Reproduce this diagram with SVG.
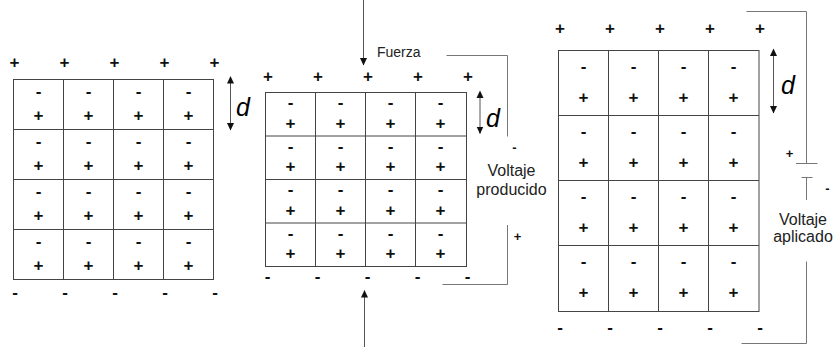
<svg xmlns="http://www.w3.org/2000/svg" width="836" height="347" viewBox="0 0 836 347">
<style>
.g{fill:#fff;stroke:#444;stroke-width:1}
.l{stroke:#444;stroke-width:1;fill:none}
.w{stroke:#777;stroke-width:1;fill:none}
.s{font-family:"Liberation Sans",Arial,sans-serif;font-size:17px;font-weight:bold;fill:#111;text-anchor:middle}
.ss{font-family:"Liberation Sans",Arial,sans-serif;font-size:13px;font-weight:bold;fill:#111;text-anchor:middle}
.t{font-family:"Liberation Sans",Arial,sans-serif;font-size:16px;fill:#222;text-anchor:middle}
.f{font-family:"Liberation Sans",Arial,sans-serif;font-size:14px;fill:#222}
.d{font-family:"Liberation Sans",Arial,sans-serif;font-size:25px;font-style:italic;fill:#000}
.a{stroke:#555;stroke-width:1;fill:none}
</style>
<defs>
<marker id="ah" markerWidth="8" markerHeight="8" refX="7" refY="4" orient="auto" markerUnits="userSpaceOnUse">
<path d="M0,0.5 L7.5,4 L0,7.5 Z" fill="#111"/>
</marker>
<marker id="ahs" markerWidth="8" markerHeight="8" refX="0.5" refY="4" orient="auto-start-reverse" markerUnits="userSpaceOnUse">
<path d="M0,0.5 L7.5,4 L0,7.5 Z" fill="#111"/>
</marker>
</defs>

<g id="grid-left">
<rect class="g" x="13.5" y="79.5" width="200" height="200"/>
<path class="l" d="M63.5,79.5V279.5M113.5,79.5V279.5M163.5,79.5V279.5M13.5,129.5H213.5M13.5,179.5H213.5M13.5,229.5H213.5"/>
<g class="s">
<text x="14.5" y="67.8">+</text><text x="64.5" y="67.8">+</text><text x="114.5" y="67.8">+</text><text x="164.5" y="67.8">+</text><text x="214.5" y="67.8">+</text>
<text x="15" y="297.6">-</text><text x="65" y="297.6">-</text><text x="115" y="297.6">-</text><text x="165" y="297.6">-</text><text x="215" y="297.6">-</text>
<text x="38.5" y="96.7">-</text><text x="88.5" y="96.7">-</text><text x="138.5" y="96.7">-</text><text x="188.5" y="96.7">-</text>
<text x="38.5" y="120.7">+</text><text x="88.5" y="120.7">+</text><text x="138.5" y="120.7">+</text><text x="188.5" y="120.7">+</text>
<text x="38.5" y="146.7">-</text><text x="88.5" y="146.7">-</text><text x="138.5" y="146.7">-</text><text x="188.5" y="146.7">-</text>
<text x="38.5" y="170.7">+</text><text x="88.5" y="170.7">+</text><text x="138.5" y="170.7">+</text><text x="188.5" y="170.7">+</text>
<text x="38.5" y="196.7">-</text><text x="88.5" y="196.7">-</text><text x="138.5" y="196.7">-</text><text x="188.5" y="196.7">-</text>
<text x="38.5" y="220.7">+</text><text x="88.5" y="220.7">+</text><text x="138.5" y="220.7">+</text><text x="188.5" y="220.7">+</text>
<text x="38.5" y="246.7">-</text><text x="88.5" y="246.7">-</text><text x="138.5" y="246.7">-</text><text x="188.5" y="246.7">-</text>
<text x="38.5" y="270.7">+</text><text x="88.5" y="270.7">+</text><text x="138.5" y="270.7">+</text><text x="188.5" y="270.7">+</text>
</g>
<text class="d" x="236" y="115.7">d</text>
</g>

<g id="grid-middle">
<rect class="g" x="265.5" y="92.5" width="201" height="174"/>
<path class="l" d="M315.5,92.5V266.5M365.5,92.5V266.5M415.5,92.5V266.5M265.5,136H466.5M265.5,179.5H466.5M265.5,223H466.5"/>
<g class="s">
<text x="268" y="81.8">+</text><text x="318" y="81.8">+</text><text x="368" y="81.8">+</text><text x="418" y="81.8">+</text><text x="468" y="81.8">+</text>
<text x="267.5" y="281.6">-</text><text x="317.5" y="281.6">-</text><text x="367.5" y="281.6">-</text><text x="417.5" y="281.6">-</text><text x="467.5" y="281.6">-</text>
<text x="290.5" y="108.2">-</text><text x="340.5" y="108.2">-</text><text x="390.5" y="108.2">-</text><text x="440.5" y="108.2">-</text>
<text x="290.5" y="128.7">+</text><text x="340.5" y="128.7">+</text><text x="390.5" y="128.7">+</text><text x="440.5" y="128.7">+</text>
<text x="290.5" y="151.7">-</text><text x="340.5" y="151.7">-</text><text x="390.5" y="151.7">-</text><text x="440.5" y="151.7">-</text>
<text x="290.5" y="172.2">+</text><text x="340.5" y="172.2">+</text><text x="390.5" y="172.2">+</text><text x="440.5" y="172.2">+</text>
<text x="290.5" y="195.2">-</text><text x="340.5" y="195.2">-</text><text x="390.5" y="195.2">-</text><text x="440.5" y="195.2">-</text>
<text x="290.5" y="215.7">+</text><text x="340.5" y="215.7">+</text><text x="390.5" y="215.7">+</text><text x="440.5" y="215.7">+</text>
<text x="290.5" y="238.7">-</text><text x="340.5" y="238.7">-</text><text x="390.5" y="238.7">-</text><text x="440.5" y="238.7">-</text>
<text x="290.5" y="259.2">+</text><text x="340.5" y="259.2">+</text><text x="390.5" y="259.2">+</text><text x="440.5" y="259.2">+</text>
</g>
<text class="d" x="486" y="126.5">d</text>
<text class="f" x="377" y="57.3">Fuerza</text>
<text class="t" x="511.5" y="175.5">Voltaje</text>
<text class="t" x="511.5" y="194.5">producido</text>
<text class="ss" x="514.5" y="151.5">-</text>
<text class="ss" x="517.5" y="241">+</text>
</g>

<g id="grid-right">
<rect class="g" x="558.5" y="50.5" width="200.5" height="261"/>
<path class="l" d="M608.5,50.5V311.5M658.5,50.5V311.5M708.5,50.5V311.5M558.5,115.5H759M558.5,180.5H759M558.5,245.5H759"/>
<g class="s">
<text x="560" y="33.8">+</text><text x="610" y="33.8">+</text><text x="660" y="33.8">+</text><text x="710" y="33.8">+</text><text x="760" y="33.8">+</text>
<text x="560" y="332.6">-</text><text x="610" y="332.6">-</text><text x="660" y="332.6">-</text><text x="710" y="332.6">-</text><text x="760" y="332.6">-</text>
<text x="583.5" y="71.7">-</text><text x="633.5" y="71.7">-</text><text x="683.5" y="71.7">-</text><text x="733.5" y="71.7">-</text>
<text x="583.5" y="102.7">+</text><text x="633.5" y="102.7">+</text><text x="683.5" y="102.7">+</text><text x="733.5" y="102.7">+</text>
<text x="583.5" y="136.7">-</text><text x="633.5" y="136.7">-</text><text x="683.5" y="136.7">-</text><text x="733.5" y="136.7">-</text>
<text x="583.5" y="167.7">+</text><text x="633.5" y="167.7">+</text><text x="683.5" y="167.7">+</text><text x="733.5" y="167.7">+</text>
<text x="583.5" y="201.7">-</text><text x="633.5" y="201.7">-</text><text x="683.5" y="201.7">-</text><text x="733.5" y="201.7">-</text>
<text x="583.5" y="232.7">+</text><text x="633.5" y="232.7">+</text><text x="683.5" y="232.7">+</text><text x="733.5" y="232.7">+</text>
<text x="583.5" y="266.7">-</text><text x="633.5" y="266.7">-</text><text x="683.5" y="266.7">-</text><text x="733.5" y="266.7">-</text>
<text x="583.5" y="297.7">+</text><text x="633.5" y="297.7">+</text><text x="683.5" y="297.7">+</text><text x="733.5" y="297.7">+</text>
</g>
<text class="d" x="781" y="94">d</text>
<text class="t" x="803" y="224.5">Voltaje</text>
<text class="t" x="803" y="242">aplicado</text>
<text class="ss" x="789.5" y="157.5">+</text>
<text class="ss" x="827.5" y="192.5">-</text>
</g>

<g id="connectors">
<line class="a" x1="230.5" y1="83" x2="230.5" y2="130" marker-start="url(#ahs)" marker-end="url(#ah)"/>
<line class="a" x1="480" y1="97.5" x2="480" y2="133.5" marker-start="url(#ahs)" marker-end="url(#ah)"/>
<line class="a" x1="773.5" y1="55.5" x2="773.5" y2="113" marker-start="url(#ahs)" marker-end="url(#ah)"/>
<line class="a" x1="363.5" y1="0" x2="363.5" y2="65" marker-end="url(#ah)"/>
<line class="a" x1="364.5" y1="347" x2="364.5" y2="290.5" marker-end="url(#ah)"/>
<path class="w" d="M446.5,55.5H507.5V136.5"/>
<path class="w" d="M507.5,225V284.5H442.5"/>
<path class="w" d="M746.5,11.5H806.5V163.5"/>
<path class="w" d="M796,163.5H817.5"/>
<path class="w" d="M801.5,177.5H812.5M806.5,177.5V200"/>
<path class="w" d="M806.5,261.5V343.5H741.5"/>
</g>
</svg>
